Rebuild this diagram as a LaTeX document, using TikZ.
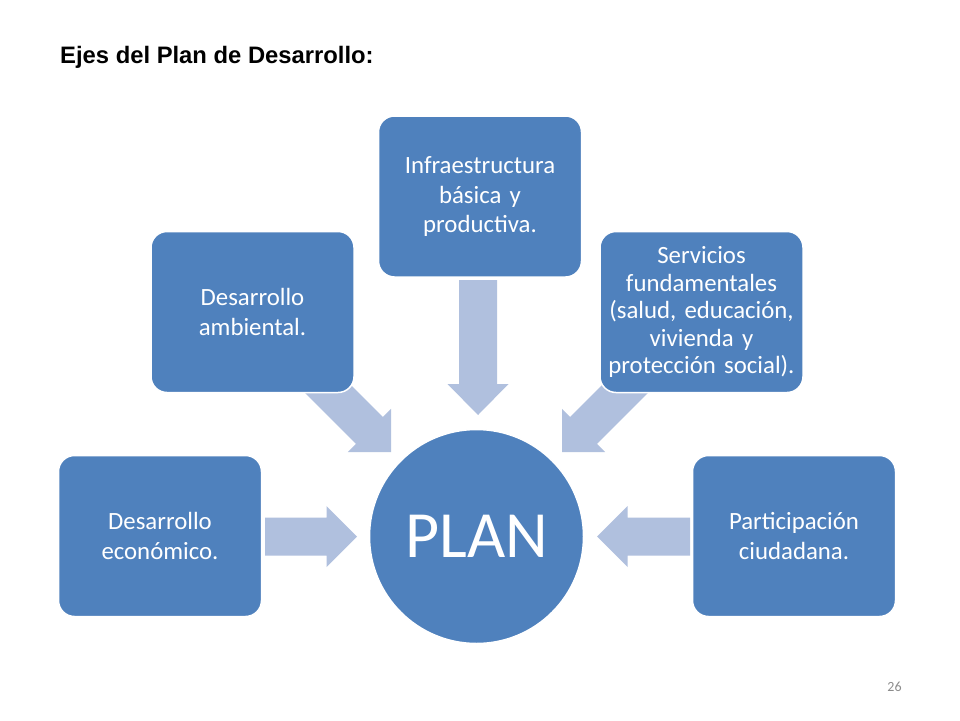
\documentclass[tikz,border=0pt]{standalone}
\usepackage{fontspec}
\setmainfont{Carlito}
\newfontfamily\arialfont{Liberation Sans}
\definecolor{boxblue}{RGB}{79,129,189}
\definecolor{arrowblue}{RGB}{176,192,222}
\definecolor{numgray}{RGB}{140,140,140}
\begin{document}
\begin{tikzpicture}[x=1pt,y=-1pt,
  stagebox/.style={draw=white, line width=1.5pt, fill=boxblue, rounded corners=16pt,
    minimum width=203pt, minimum height=161pt, inner sep=0pt,
    text=white, text width=198pt, align=center, font=\fontsize{24.8}{29.5}\selectfont},
  hubcircle/.style={circle, draw=white, line width=1.5pt, fill=boxblue, minimum size=214pt,
    inner sep=0pt, text=white, font=\fontsize{66}{72}\selectfont},
  blockarrow/.style={fill=arrowblue}]
\useasboundingbox (0,0) rectangle (960,720);
\fill[white] (0,0) rectangle (960,720);

% arrow tips
\coordinate (t1) at (357,536.5);
\coordinate (t2) at (391,452);
\coordinate (t3) at (478,415);
\coordinate (t4) at (562,452);
\coordinate (t5) at (597,536.5);

\begin{scope}[shift={(t1)}]
  \fill[blockarrow] (0,0) -- (-30.5,30.5) -- (-30.5,19) -- (-92,19) -- (-92,-19) -- (-30.5,-19) -- (-30.5,-30.5) -- cycle;
\end{scope}
\begin{scope}[shift={(t2)},rotate=-45]
  \fill[blockarrow] (0,0) -- (-30.5,30.5) -- (-30.5,19) -- (-120,19) -- (-120,-19) -- (-30.5,-19) -- (-30.5,-30.5) -- cycle;
\end{scope}
\begin{scope}[shift={(t3)},rotate=-90]
  \fill[blockarrow] (0,0) -- (-31,30.5) -- (-31,19) -- (-135,19) -- (-135,-19) -- (-31,-19) -- (-31,-30.5) -- cycle;
\end{scope}
\begin{scope}[shift={(t4)},rotate=-135]
  \fill[blockarrow] (0,0) -- (-30.5,30.5) -- (-30.5,19) -- (-120,19) -- (-120,-19) -- (-30.5,-19) -- (-30.5,-30.5) -- cycle;
\end{scope}
\begin{scope}[shift={(t5)},rotate=180]
  \fill[blockarrow] (0,0) -- (-30.5,30.5) -- (-30.5,19) -- (-93,19) -- (-93,-19) -- (-30.5,-19) -- (-30.5,-30.5) -- cycle;
\end{scope}

\node[stagebox] (econ) at (160,536) {Desarrollo\\econ\'omico.};
\node[stagebox] (amb) at (252.5,312) {Desarrollo\\ambiental.};
\node[stagebox] (infra) at (480,196.5) {Infraestructura\\b\'asica y\\productiva.};
\node[stagebox, font=\fontsize{24.8}{27.5}\selectfont] (serv) at (701.5,312) {Servicios\\fundamentales\\(salud, educaci\'on,\\vivienda y\\protecci\'on social).};
\node[stagebox] (part) at (794,536) {Participaci\'on\\ciudadana.};

\node[hubcircle] (plan) at (476.5,536.5) {PLAN};

\node[anchor=base west, font=\arialfont\bfseries\fontsize{23.8}{28}\selectfont, inner sep=0pt] (title) at (60,63) {Ejes del Plan de Desarrollo:};
\node[font=\fontsize{14}{16}\selectfont, text=numgray, inner sep=0pt] (pagenum) at (894.5,687) {26};
\end{tikzpicture}
\end{document}
